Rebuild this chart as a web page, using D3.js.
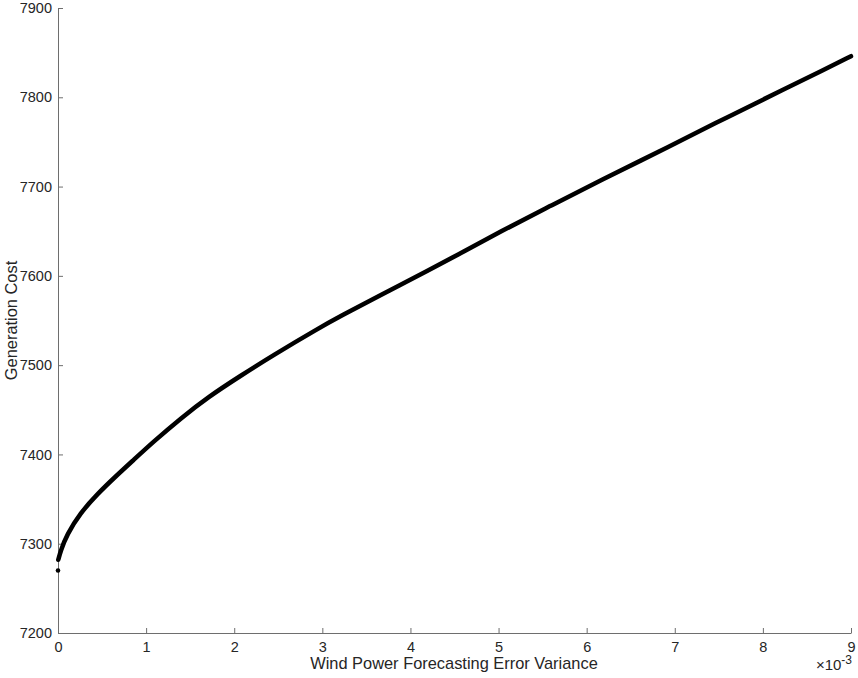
<!DOCTYPE html>
<html>
<head>
<meta charset="utf-8">
<script src="https://cdn.jsdelivr.net/npm/d3@7"></script>
<style>
  html, body { margin: 0; padding: 0; background: #fff; }
  text { font-family: "Liberation Sans", Arial, Helvetica, sans-serif; }
</style>
</head>
<body>
<svg id="chart" width="858" height="678"></svg>
<script>
// Data (x in units of 1e-3)
const firstPoint = { x: 0, y: 7270 };
const varianceX = [0.003, 0.03, 0.1, 0.25, 0.45, 0.65, 0.86, 1.08, 1.4, 1.7, 2.07, 2.44, 2.97, 3.2, 3.65, 4.22, 4.6, 5.01, 5.58, 6.14, 6.94, 7.58, 8.26, 8.68, 9.0];
const costY     = [7282, 7292, 7310, 7334, 7356, 7375, 7394, 7414, 7441, 7464, 7488, 7511, 7542, 7554.5, 7578, 7607, 7627, 7649, 7678, 7706, 7745, 7777, 7810, 7830, 7846];
const xTicks = [0, 1, 2, 3, 4, 5, 6, 7, 8, 9];
const yTicks = [7200, 7300, 7400, 7500, 7600, 7700, 7800, 7900];
const xLabel = "Wind Power Forecasting Error Variance";
const yLabel = "Generation Cost";

(function () {
const svg = d3.select("#chart");
const mLeft = 58, mRight = 851, mTop = 8, mBottom = 633;

const x = d3.scaleLinear().domain([0, 9]).range([mLeft, mRight]);
const y = d3.scaleLinear().domain([7200, 7900]).range([mBottom, mTop]);

const axisColor = "#6e6e6e";
const textColor = "#262626";

// X axis
const gx = svg.append("g").attr("transform", `translate(0,${mBottom})`)
  .call(d3.axisBottom(x).tickValues(xTicks).tickSizeInner(-5).tickSizeOuter(0).tickPadding(9).tickFormat(d3.format("d")));
gx.select(".domain").attr("stroke", axisColor).attr("stroke-width", 1);
gx.selectAll(".tick line").attr("stroke", axisColor);
gx.selectAll(".tick text").attr("fill", textColor).attr("font-size", 14.5).attr("font-family", "Liberation Sans, Arial, sans-serif");

// Y axis
const gy = svg.append("g").attr("transform", `translate(${mLeft},0)`)
  .call(d3.axisLeft(y).tickValues(yTicks).tickSizeInner(-5).tickSizeOuter(0).tickPadding(6).tickFormat(d3.format("d")));
gy.select(".domain").attr("stroke", axisColor).attr("stroke-width", 1);
gy.selectAll(".tick line").attr("stroke", axisColor);
gy.selectAll(".tick text").attr("fill", textColor).attr("font-size", 14.5).attr("font-family", "Liberation Sans, Arial, sans-serif");

// Axis labels
svg.append("text")
  .attr("x", 454).attr("y", 669)
  .attr("text-anchor", "middle").attr("fill", textColor).attr("font-size", 16.4)
  .text(xLabel);

svg.append("text")
  .attr("transform", `translate(17,${(mTop + mBottom) / 2}) rotate(-90)`)
  .attr("text-anchor", "middle").attr("fill", textColor).attr("font-size", 16.4)
  .text(yLabel);

// Exponent label
const expo = svg.append("text")
  .attr("x", mRight + 1).attr("y", 670)
  .attr("text-anchor", "end").attr("fill", textColor).attr("font-size", 15);
expo.append("tspan").text("\u00D710");
expo.append("tspan").attr("dy", -6).attr("font-size", 12).text("-3");

// Curve
const pts = varianceX.map((v, i) => [v, costY[i]]);
const line = d3.line().x(d => x(d[0])).y(d => y(d[1])).curve(d3.curveBasis);
svg.append("path")
  .attr("d", line(pts))
  .attr("fill", "none").attr("stroke", "#000").attr("stroke-width", 4.5)
  .attr("stroke-linecap", "round").attr("stroke-linejoin", "round");

svg.append("circle")
  .attr("cx", x(firstPoint.x)).attr("cy", y(firstPoint.y)).attr("r", 2.3).attr("fill", "#000");
})();
</script>
</body>
</html>
